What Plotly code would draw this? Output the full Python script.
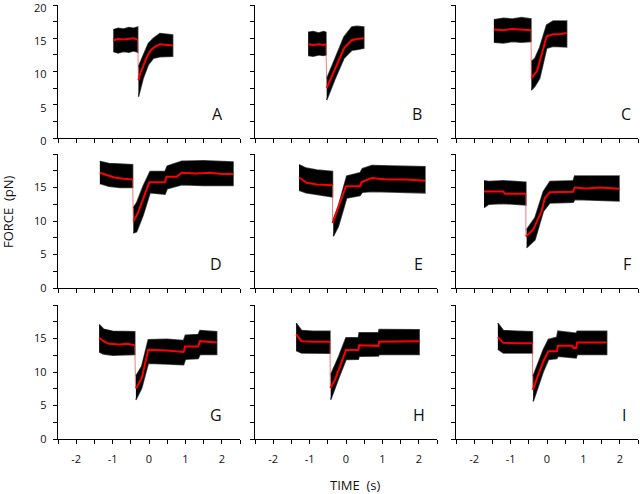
import plotly.graph_objects as go

# ---------------- data (time s, force pN) ----------------
PANEL_NAMES = ["A", "B", "C", "D", "E", "F", "G", "H", "I"]

A_mean_pre = [(-0.98, 14.7), (-0.85, 14.9), (-0.7, 14.8), (-0.55, 14.9), (-0.42, 15.0), (-0.31, 14.8)]
A_mean_post = [(-0.29, 8.7), (-0.24, 9.7), (-0.16, 10.8), (-0.05, 12.3), (0.05, 13.2), (0.16, 13.7), (0.3, 14.1), (0.45, 14.0), (0.65, 13.9)]
A_band_pre = [(-0.98, 13.0, 16.3), (-0.85, 12.8, 16.5), (-0.7, 13.0, 16.4), (-0.55, 12.9, 16.6), (-0.42, 13.1, 16.5), (-0.31, 12.9, 16.7)]
A_band_post = [(-0.29, 6.2, 10.7), (-0.2, 8.0, 11.8), (-0.16, 9.0, 12.5), (-0.02, 11.0, 14.2), (0.12, 12.0, 15.0), (0.30, 12.2, 15.7), (0.49, 12.3, 15.6), (0.65, 12.3, 15.5)]

B_mean_pre = [(-1.04, 14.1), (-0.9, 14.0), (-0.75, 14.1), (-0.62, 14.0), (-0.55, 14.1)]
B_mean_post = [(-0.53, 7.5), (-0.3, 10.4), (-0.055, 13.5), (0.05, 14.1), (0.16, 14.7), (0.3, 14.9), (0.49, 15.0)]
B_band_pre = [(-1.04, 12.4, 15.9), (-0.9, 12.3, 16.0), (-0.75, 12.5, 15.8), (-0.62, 12.4, 16.0), (-0.55, 12.5, 15.9)]
B_band_post = [(-0.53, 5.7, 8.9), (-0.3, 8.9, 12.0), (-0.055, 12.0, 15.2), (0.16, 13.2, 16.7), (0.3, 13.3, 16.8), (0.49, 13.5, 16.7)]

C_mean_pre = [(-1.46, 16.3), (-1.2, 16.2), (-0.95, 16.4), (-0.7, 16.3), (-0.44, 16.2)]
C_mean_post = [(-0.43, 9.0), (-0.33, 9.6), (-0.27, 10.1), (-0.01, 15.3), (0.17, 15.6), (0.35, 15.6), (0.54, 15.8)]
C_band_pre = [(-1.46, 14.4, 17.8), (-1.2, 14.3, 18.0), (-0.95, 14.5, 17.9), (-0.7, 14.4, 18.1), (-0.44, 14.5, 17.9)]
C_band_post = [(-0.43, 7.2, 11.5), (-0.33, 7.8, 12.0), (-0.2, 9.0, 13.6), (-0.01, 13.5, 17.0), (0.17, 13.8, 17.6), (0.54, 13.7, 17.6)]

D_mean_pre = [(-1.35, 17.2), (-1.15, 16.8), (-0.95, 16.5), (-0.7, 16.3), (-0.45, 16.2)]
D_mean_post = [(-0.43, 9.9), (-0.29, 11.4), (0.01, 15.8), (0.44, 15.8), (0.48, 16.6), (0.76, 16.6), (0.9, 17.2), (1.3, 17.1), (1.7, 17.2), (2.0, 17.0), (2.31, 17.0)]
D_band_pre = [(-1.35, 15.6, 18.9), (-1.1, 15.2, 18.6), (-0.8, 15.0, 18.5), (-0.45, 15.0, 18.4)]
D_band_post = [(-0.43, 8.2, 12.0), (-0.34, 8.4, 12.7), (-0.16, 10.9, 15.2), (0.03, 14.2, 17.4), (0.44, 14.0, 17.4), (0.5, 14.8, 18.2), (0.9, 15.4, 18.9), (1.5, 15.3, 19.0), (2.31, 15.3, 18.8)]

E_mean_pre = [(-1.29, 16.5), (-1.08, 15.7), (-0.8, 15.45), (-0.6, 15.4), (-0.37, 15.35)]
E_mean_post = [(-0.37, 9.7), (0.0, 15.2), (0.385, 15.2), (0.43, 15.8), (0.71, 16.4), (1.12, 16.2), (1.67, 16.2), (2.17, 16.0)]
E_band_pre = [(-1.29, 14.6, 18.4), (-1.1, 14.2, 17.9), (-0.8, 14.0, 17.6), (-0.37, 13.6, 17.4)]
E_band_post = [(-0.35, 7.7, 10.2), (-0.21, 9.2, 12.2), (0.02, 13.45, 16.7), (0.385, 13.8, 17.2), (0.45, 14.3, 17.8), (0.71, 14.4, 18.3), (2.17, 14.2, 18.1)]

F_mean_pre = [(-1.73, 14.4), (-1.2, 14.4), (-1.15, 14.05), (-0.58, 14.05)]
F_mean_post = [(-0.58, 7.7), (-0.38, 8.7), (-0.15, 11.45), (-0.06, 13.4), (0.08, 14.3), (0.72, 14.35), (0.76, 15.0), (1.08, 14.85), (1.45, 15.0), (1.98, 14.8)]
F_band_pre = [(-1.73, 12.0, 16.0), (-1.6, 12.5, 15.9), (-1.2, 12.6, 16.0), (-0.58, 12.4, 15.8)]
F_band_post = [(-0.56, 6.0, 8.7), (-0.33, 7.2, 10.5), (-0.1, 11.45, 14.4), (0.08, 12.7, 15.9), (0.72, 12.8, 16.0), (0.76, 13.2, 16.7), (1.98, 13.0, 16.7)]

G_mean_pre = [(-1.37, 15.1), (-1.25, 14.6), (-1.1, 14.2), (-0.8, 14.1), (-0.6, 14.2), (-0.39, 14.0)]
G_mean_post = [(-0.37, 7.6), (-0.34, 7.7), (-0.2, 9.1), (-0.02, 13.3), (0.49, 13.2), (0.81, 13.0), (0.95, 13.0), (0.99, 13.8), (1.35, 13.8), (1.4, 14.6), (1.86, 14.4)]
G_band_pre = [(-1.37, 13.0, 17.1), (-1.25, 12.7, 16.4), (-1.0, 12.5, 16.1), (-0.39, 12.6, 16.0)]
G_band_post = [(-0.36, 5.85, 9.4), (-0.2, 7.6, 10.85), (-0.02, 11.3, 14.8), (0.49, 11.2, 14.9), (0.95, 11.1, 14.7), (1.0, 11.9, 15.5), (1.35, 12.0, 15.6), (1.4, 12.6, 16.2), (1.86, 12.6, 16.0)]

H_mean_pre = [(-1.37, 15.6), (-1.22, 14.6), (-0.9, 14.5), (-0.44, 14.5)]
H_mean_post = [(-0.43, 7.6), (-0.3, 8.85), (0.0, 13.3), (0.34, 13.3), (0.36, 14.0), (0.89, 13.9), (0.91, 14.5), (1.5, 14.5), (2.01, 14.6)]
H_band_pre = [(-1.37, 13.2, 17.3), (-1.22, 12.85, 16.2), (-0.9, 12.85, 16.1), (-0.44, 12.8, 16.1)]
H_band_post = [(-0.42, 5.85, 9.6), (-0.2, 9.1, 12.3), (0.0, 11.85, 15.1), (0.34, 11.9, 15.1), (0.36, 12.35, 15.85), (0.89, 12.4, 15.85), (0.91, 12.6, 16.35), (2.01, 12.6, 16.3)]

I_mean_pre = [(-1.35, 15.2), (-1.2, 14.35), (-0.8, 14.3), (-0.40, 14.3)]
I_mean_post = [(-0.40, 7.35), (-0.37, 7.6), (-0.24, 9.6), (-0.1, 11.6), (0.04, 13.1), (0.27, 13.1), (0.3, 13.9), (0.69, 13.9), (0.73, 13.6), (0.8, 13.6), (0.83, 14.4), (1.64, 14.4)]
I_band_pre = [(-1.35, 13.4, 17.3), (-1.2, 12.85, 16.2), (-0.8, 12.8, 16.1), (-0.40, 12.85, 16.0)]
I_band_post = [(-0.38, 5.6, 9.4), (-0.1, 10.1, 13.35), (0.04, 11.85, 14.85), (0.27, 12.0, 15.2), (0.3, 12.35, 16.1), (0.8, 12.1, 15.8), (0.83, 12.6, 16.1), (1.64, 12.6, 16.1)]

X_TICKS = [-2.5, -2, -1.5, -1, -0.5, 0, 0.5, 1, 1.5, 2, 2.5]
X_TICK_TEXT = ["", "-2", "", "-1", "", "0", "", "1", "", "2", ""]
Y_TICKS = [0, 2.5, 5, 7.5, 10, 12.5, 15, 17.5, 20]
Y_TICK_TEXT_TOP = ["0", "", "5", "", "10", "", "15", "", "20"]
Y_TICK_TEXT = ["0", "", "5", "", "10", "", "15", "", ""]

DATA = {
    "A": (A_mean_pre, A_mean_post, A_band_pre, A_band_post),
    "B": (B_mean_pre, B_mean_post, B_band_pre, B_band_post),
    "C": (C_mean_pre, C_mean_post, C_band_pre, C_band_post),
    "D": (D_mean_pre, D_mean_post, D_band_pre, D_band_post),
    "E": (E_mean_pre, E_mean_post, E_band_pre, E_band_post),
    "F": (F_mean_pre, F_mean_post, F_band_pre, F_band_post),
    "G": (G_mean_pre, G_mean_post, G_band_pre, G_band_post),
    "H": (H_mean_pre, H_mean_post, H_band_pre, H_band_post),
    "I": (I_mean_pre, I_mean_post, I_band_pre, I_band_post),
}

# ---------------- layout geometry ----------------
W, H = 640, 494
COL_PX = [(58, 240), (255, 437), (456, 638)]
ROW_PX = [(5, 138), (154, 288), (305, 439)]
LABEL_X = [1.87, 1.95, 2.17, 1.84, 1.98, 2.2, 1.84, 2.0, 2.12]
LABEL_Y = 3.6
FONT = "Open Sans, Lato, sans-serif"
TXT = "#111111"

fig = go.Figure()
layout = dict(
    template="none",
    width=W, height=H, margin=dict(l=0, r=0, t=0, b=0, pad=0, autoexpand=False),
    paper_bgcolor="white", plot_bgcolor="white", showlegend=False,
    font=dict(family=FONT, color=TXT), hovermode=False,
)
annotations = []

for i, name in enumerate(PANEL_NAMES):
    r, c = divmod(i, 3)
    k = "" if i == 0 else str(i + 1)
    xa, ya = "x" + k, "y" + k
    mean_pre, mean_post, band_pre, band_post = DATA[name]

    for band in (band_pre, band_post):
        ts = [p[0] for p in band]
        lo = [p[1] for p in band]
        hi = [p[2] for p in band]
        fig.add_trace(go.Scatter(
            x=ts + ts[::-1], y=hi + lo[::-1], mode="lines", fill="toself",
            fillcolor="black", line=dict(color="rgba(0,0,0,0.7)", width=1.5),
            xaxis=xa, yaxis=ya, hoverinfo="skip"))
    # thin drop line
    fig.add_trace(go.Scatter(
        x=[mean_pre[-1][0], mean_post[0][0]], y=[mean_pre[-1][1], mean_post[0][1]],
        mode="lines", line=dict(color="rgba(230,70,70,0.7)", width=1),
        xaxis=xa, yaxis=ya, hoverinfo="skip"))
    for seg in (mean_pre, mean_post):
        fig.add_trace(go.Scatter(
            x=[p[0] for p in seg], y=[p[1] for p in seg], mode="lines",
            line=dict(color="#ff0000", width=2), xaxis=xa, yaxis=ya, hoverinfo="skip"))

    x0, x1 = COL_PX[c]
    y0, y1 = ROW_PX[r]
    layout["xaxis" + k] = dict(
        domain=[x0 / W, x1 / W], range=[-2.5, 2.5], anchor=ya, automargin=False,
        showgrid=False, zeroline=False, showline=True, linecolor="black", linewidth=1.3,
        ticks="outside", ticklen=4, tickwidth=1, tickcolor="black",
        tickvals=X_TICKS, ticktext=X_TICK_TEXT if r == 2 else [""] * len(X_TICKS),
        tickfont=dict(size=11, family=FONT, color=TXT), ticklabelstandoff=5,
        ticklabeloverflow="allow")
    layout["yaxis" + k] = dict(
        domain=[1 - y1 / H, 1 - y0 / H], range=[0, 20], anchor=xa, automargin=False,
        showgrid=False, zeroline=False, showline=True, linecolor="black", linewidth=1.3,
        ticks="outside", ticklen=4, tickwidth=1, tickcolor="black",
        tickvals=Y_TICKS,
        ticktext=(Y_TICK_TEXT_TOP if r == 0 else Y_TICK_TEXT) if c == 0 else [""] * len(Y_TICKS),
        tickfont=dict(size=11, family=FONT, color=TXT), ticklabelstandoff=4,
        ticklabelshift=3 if r == 0 else 0,
        ticklabeloverflow="allow")
    annotations.append(dict(
        x=LABEL_X[i], y=LABEL_Y, xref=xa, yref=ya, text=name, showarrow=False,
        xanchor="center", yanchor="middle", font=dict(size=16, family=FONT, color=TXT)))

annotations.append(dict(
    x=8 / W, y=1 - 212 / H, xref="paper", yref="paper", text="FORCE  (pN)",
    textangle=-90, showarrow=False, xanchor="center", yanchor="middle",
    font=dict(size=13, family=FONT, color=TXT)))
annotations.append(dict(
    x=355 / W, y=1 - 485 / H, xref="paper", yref="paper", text="TIME  (s)",
    showarrow=False, xanchor="center", yanchor="middle",
    font=dict(size=13, family=FONT, color=TXT)))

layout["annotations"] = annotations
fig.update_layout(**layout)
fig.write_html("out.html", config={"displayModeBar": False, "staticPlot": True},
               post_script="document.body.style.margin='0px';document.body.style.padding='0px';")
